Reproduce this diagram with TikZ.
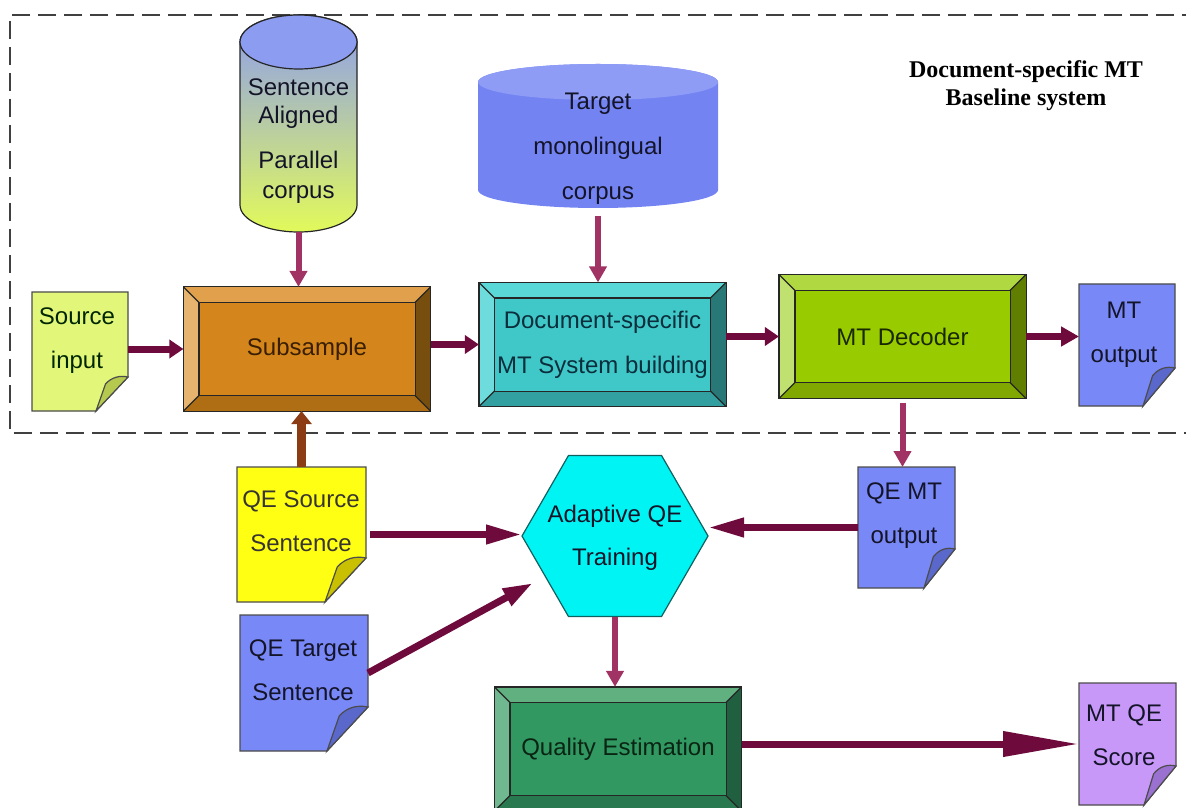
\documentclass[tikz,border=0pt]{standalone}
\usepackage{fontspec}
\setmainfont{Liberation Sans}
\newfontfamily\titlefont{Liberation Serif}
\usetikzlibrary{arrows.meta,calc,shapes.geometric}

% arrow colours
\definecolor{maroon}{HTML}{6E0A3C}
\definecolor{plum}{HTML}{A03264}
\definecolor{rust}{HTML}{8C3C14}
% bevel box colours
\definecolor{subface}{HTML}{D4861C}\definecolor{subtop}{HTML}{E1A04B}
\definecolor{subleft}{HTML}{E6B46E}\definecolor{subright}{HTML}{784E0F}
\definecolor{subbot}{HTML}{AF6E14}\definecolor{subtext}{HTML}{3A1E00}
\definecolor{docface}{HTML}{40C8C8}\definecolor{doctop}{HTML}{5AD7D7}
\definecolor{docleft}{HTML}{6EDCDC}\definecolor{docright}{HTML}{287878}
\definecolor{docbot}{HTML}{32A0A0}\definecolor{doctext}{HTML}{0A2E3C}
\definecolor{decface}{HTML}{98CC00}\definecolor{dectop}{HTML}{B0D840}
\definecolor{decleft}{HTML}{C0E070}\definecolor{decright}{HTML}{607E00}
\definecolor{decbot}{HTML}{80A800}\definecolor{dectext}{HTML}{1A2800}
\definecolor{qeface}{HTML}{309860}\definecolor{qetop}{HTML}{60B080}
\definecolor{qeleft}{HTML}{70B890}\definecolor{qeright}{HTML}{206040}
\definecolor{qebot}{HTML}{287850}\definecolor{qetext}{HTML}{0A2414}
% page and store colours
\definecolor{srcfill}{HTML}{E2F77A}\definecolor{srcflap}{HTML}{B5C94E}
\definecolor{bluefill}{HTML}{7888F6}\definecolor{blueflap}{HTML}{5A68CC}
\definecolor{yelfill}{HTML}{FFFF14}\definecolor{yelflap}{HTML}{C8C000}
\definecolor{lavfill}{HTML}{C898F8}\definecolor{lavflap}{HTML}{9A70D0}
\definecolor{cylblue}{HTML}{8C9CF0}\definecolor{cylmid}{HTML}{B4CCA8}
\definecolor{cylgreen}{HTML}{E2FA5A}
\definecolor{monobody}{HTML}{7383F2}\definecolor{monotop}{HTML}{8E9CF6}
\definecolor{hexfill}{HTML}{00F4F4}\definecolor{hexedge}{HTML}{106060}
\definecolor{darktext}{HTML}{141428}

\tikzset{
  boxtext/.style={font=\fontsize{12}{22}\selectfont, align=center, inner sep=0pt, text=darktext},
  bevelbox/.style={boxtext, draw=black!85, line width=0.6pt,
                   minimum width=123pt, minimum height=61.5pt},
  holder/.style={inner sep=0pt, outer sep=0pt},
  edge/.style={draw=black!85, line width=0.6pt},
  noteedge/.style={draw=black!70, line width=0.6pt},
  frame/.style={draw=black!75, line width=0.7pt, dash pattern=on 9pt off 4pt},
  flow/.style={draw=maroon, line width=3.5pt, -{Triangle[length=7pt,width=9pt]}},
  feed/.style={draw=plum, line width=3pt, -{Triangle[length=8pt,width=8.5pt]}},
  backflow/.style={draw=rust, line width=4.5pt, -{Triangle[length=6.5pt,width=10pt]}},
  longflow/.style={draw=maroon, line width=3.5pt, -{Triangle[length=18pt,width=9pt]}},
  scoreflow/.style={draw=maroon, line width=3.5pt, -{Triangle[length=38pt,width=12pt]}},
  hexnode/.style={regular polygon, regular polygon sides=6, inner sep=0pt, outer sep=0pt,
                  minimum size=93pt, draw=hexedge, line width=0.6pt, fill=hexfill}
}

% bevelled frame around a box node: #1 node, #2 bevel, #3-#6 top/left/right/bottom colours
\newcommand\bevelframe[6]{%
  \fill[#3] (#1.north west) -- (#1.north east) -- ($(#1.north east)+(-#2,#2)$) -- ($(#1.north west)+(#2,#2)$) -- cycle;
  \fill[#4] (#1.north west) -- ($(#1.north west)+(#2,#2)$) -- ($(#1.south west)+(#2,-#2)$) -- (#1.south west) -- cycle;
  \fill[#5] (#1.north east) -- ($(#1.north east)+(-#2,#2)$) -- ($(#1.south east)+(-#2,-#2)$) -- (#1.south east) -- cycle;
  \fill[#6] (#1.south west) -- ($(#1.south west)+(#2,-#2)$) -- ($(#1.south east)+(-#2,-#2)$) -- (#1.south east) -- cycle;
  \draw[edge] (#1.north west) rectangle (#1.south east);
  \draw[edge] ($(#1.north west)+(#2,#2)$) rectangle ($(#1.south east)+(-#2,-#2)$);
  \draw[edge] (#1.north west) -- ($(#1.north west)+(#2,#2)$);
  \draw[edge] (#1.north east) -- ($(#1.north east)+(-#2,#2)$);
  \draw[edge] (#1.south west) -- ($(#1.south west)+(#2,-#2)$);
  \draw[edge] (#1.south east) -- ($(#1.south east)+(-#2,-#2)$);
}

% page with a curled corner: #1 node, #2 fold width, #3 fold height, #4 fill, #5 flap fill
\newcommand\notepage[5]{%
  \draw[noteedge, fill=#4] (#1.north west) -- (#1.north east) -- ($(#1.south east)+(0,-#3)$)
     -- ($(#1.south east)+(-#2,0)$) -- (#1.south west) -- cycle;
  \draw[noteedge, fill=#5] ($(#1.south east)+(0,-#3)$)
     .. controls ($(#1.south east)+(-0.25*#2,-1.05*#3)$) and ($(#1.south east)+(-0.5*#2,-1.0*#3)$)
     .. ($(#1.south east)+(-0.7*#2,-0.8*#3)$) -- ($(#1.south east)+(-#2,0)$) -- cycle;
}

\begin{document}
\begin{tikzpicture}[x=0.5pt,y=-0.5pt]
\clip (0,0) rectangle (1186,807);
\fill[white] (0,0) rectangle (1186,807);

% baseline system frame
\draw[frame] (1200,15) -- (10,15) -- (10,433) -- (1200,433);
\node[boxtext, font=\titlefont\bfseries\fontsize{12}{14}\selectfont, text=black] (title)
  at (1026,86) {Document-specific MT\\Baseline system};

% sentence aligned parallel corpus
\shadedraw[edge, top color=cylblue, middle color=cylmid, bottom color=cylgreen]
  (240,42) -- (240,205) arc[start angle=180, end angle=360, x radius=29.25pt, y radius=13.5pt]
  -- (357,42) arc[start angle=0, end angle=180, x radius=29.25pt, y radius=13.5pt] -- cycle;
\draw[edge, fill=cylblue] (298.5,42) ellipse[x radius=29.25pt, y radius=13.5pt];
\node[holder, minimum width=58.5pt, minimum height=108.5pt] (par) at (298.5,123.5) {};
\node[boxtext, font=\fontsize{12}{14}\selectfont] (par-t) at (298.5,141)
  {Sentence\\Aligned\\[8.5pt]Parallel\\[1pt]corpus};

% target monolingual corpus
\fill[monobody] (478,82) -- (478,190) arc[start angle=180, end angle=360, x radius=60pt, y radius=9pt]
  -- (718,82) arc[start angle=0, end angle=180, x radius=60pt, y radius=9pt] -- cycle;
\fill[monotop] (598,82) ellipse[x radius=60pt, y radius=9pt];
\node[holder, minimum width=120pt, minimum height=72pt] (mono) at (598,136) {};
\node[boxtext, font=\fontsize{12}{22.5}\selectfont] (mono-t) at (598,149)
  {Target\\monolingual\\corpus};

% processing stages
\node[bevelbox, fill=subface, text=subtext] (sub) at (307,349) {Subsample};
\bevelframe{sub}{15.5}{subtop}{subleft}{subright}{subbot}
\node[bevelbox, fill=docface, text=doctext, font=\fontsize{12}{22.5}\selectfont] (doc) at (602.5,344.5)
  {Document-specific\\MT System building};
\bevelframe{doc}{15.5}{doctop}{docleft}{docright}{docbot}
\node[bevelbox, fill=decface, text=dectext] (dec) at (902.5,336.5) {MT Decoder};
\bevelframe{dec}{16}{dectop}{decleft}{decright}{decbot}
\node[bevelbox, fill=qeface, text=qetext] (qe) at (618,749) {Quality Estimation};
\bevelframe{qe}{15.5}{qetop}{qeleft}{qeright}{qebot}

% documents
\node[holder, minimum width=48pt, minimum height=59.5pt] (src) at (80,351.5) {};
\notepage{src}{32}{34}{srcfill}{srcflap}
\node[boxtext, text=black!85!green] (src-t) at (77,341) {Source\\input};

\node[holder, minimum width=48pt, minimum height=61pt] (mtout) at (1127,345) {};
\notepage{mtout}{32}{38}{bluefill}{blueflap}
\node[boxtext] (mtout-t) at (1124,335) {MT\\output};

\node[holder, minimum width=64.5pt, minimum height=67.5pt] (qesrc) at (301.5,534.5) {};
\notepage{qesrc}{41}{44}{yelfill}{yelflap}
\node[boxtext, text=black!90!yellow] (qesrc-t) at (301,521) {QE Source\\Sentence};

\node[holder, minimum width=64pt, minimum height=68pt] (qetgt) at (304,683) {};
\notepage{qetgt}{41}{44}{bluefill}{blueflap}
\node[boxtext] (qetgt-t) at (303,670) {QE Target\\Sentence};

\node[holder, minimum width=48.5pt, minimum height=60.5pt] (qemt) at (906.5,527.5) {};
\notepage{qemt}{31}{39}{bluefill}{blueflap}
\node[boxtext] (qemt-t) at (904,516) {QE MT\\output};

\node[holder, minimum width=48.5pt, minimum height=61pt] (score) at (1127.5,744) {};
\notepage{score}{32}{39}{lavfill}{lavflap}
\node[boxtext] (score-t) at (1124,735) {MT QE\\Score};

% adaptive training
\node[hexnode] (hex) at (615,536) {};
\node[boxtext, font=\fontsize{12}{21.5}\selectfont] (hex-t) at (615,538) {Adaptive QE\\Training};

% connectors
\draw[feed] (par.south) -- (par.south |- sub.north);
\draw[feed, shorten <=4pt] (mono.south) -- (mono.south |- doc.north);
\draw[flow] (src.east |- sub.west) -- (sub.west);
\draw[flow] (sub.east |- doc.west) -- (doc.west);
\draw[flow] (doc.east |- dec.west) -- (dec.west);
\draw[flow, -{Triangle[length=9pt,width=9.5pt]}] (dec.east) -- (dec.east -| mtout.west);
\draw[feed, shorten <=2pt] (dec.south) -- (dec.south |- qemt.north);
\draw[backflow] (qesrc.north) -- (qesrc.north |- sub.south);
\draw[longflow, shorten <=2pt] (qesrc.east) -- (qesrc.east -| hex.west);
\draw[longflow] (qemt.west) -- (qemt.west -| hex.east);
\draw[flow, -{Triangle[length=15pt,width=9pt]}, shorten >=7pt] ($(qetgt.east)+(0,-10)$) -- (hex.210);
\draw[feed] (hex.south) -- (hex.south |- qe.north);
\draw[scoreflow] (qe.east |- score.west) -- (score.west);
\end{tikzpicture}
\end{document}
